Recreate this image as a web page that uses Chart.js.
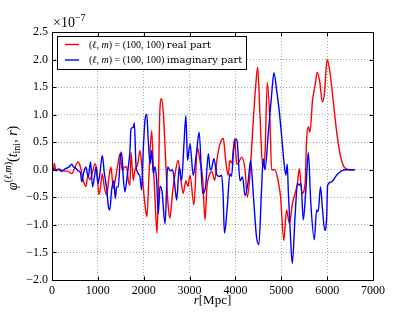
<!DOCTYPE html>
<html>
<head>
<meta charset="utf-8">
<script src="https://cdn.jsdelivr.net/npm/chart.js@4.4.1/dist/chart.umd.min.js"></script>
<style>
  html, body { margin: 0; padding: 0; background: #fff; }
</style>
</head>
<body>
<canvas id="chart" width="415" height="312"></canvas>
<script>
// values in units of 1e-7
var rReal = [0, 30, 50, 80, 150, 250, 350, 430, 480, 530, 570, 620, 680, 740, 780, 830, 880, 940, 990, 1020,
  1050, 1097, 1140, 1192, 1243, 1286, 1337, 1389, 1445, 1482, 1533, 1576, 1628, 1663, 1700, 1722, 1772, 1810, 1868, 1918,
  1955, 1990, 2043, 2070, 2115, 2173, 2208, 2245, 2290, 2320, 2355, 2390, 2430, 2465, 2500, 2535, 2570, 2630, 2680, 2750,
  2800, 2860, 2920, 2965, 3010, 3095, 3170, 3230, 3290, 3335, 3380, 3430, 3480, 3550, 3600, 3675, 3735, 3790, 3840, 3880,
  3920, 3980, 4030, 4065, 4135, 4210, 4260, 4320, 4390, 4440, 4485, 4535, 4595, 4645, 4695, 4755, 4790, 4860, 4935, 4985,
  5055, 5115, 5175, 5245, 5300, 5350, 5395, 5450, 5520, 5550, 5590, 5625, 5680, 5740, 5785, 5840, 5895, 5940, 6000, 6060,
  6135, 6205, 6280, 6350, 6425, 6500, 6600];
var realPart = [0.0, 0.0, 0.12, 0.0, 0.01, -0.02, -0.03, -0.07, 0.0, 0.1, 0.14, 0.05, -0.19, -0.3, -0.12, -0.18, -0.05, 0.11, -0.1, -0.45,
  -0.37, -0.07, -0.31, -0.46, -0.13, 0.05, -0.34, -0.13, 0.14, 0.29, -0.01, 0.05, 0.05, -0.19, -0.28, 0.32, -0.19, 0.0, 0.1, 0.35,
  0.1, -0.31, -0.75, -0.85, -0.1, 0.71, 0.1, -0.5, -1.15, -0.3, 1.14, 1.29, 1.0, 0.41, -0.2, -0.67, -0.88, -0.4, -0.1, 0.17,
  -0.1, -0.43, -0.2, -0.3, -0.1, -0.64, 0.4, 0.15, -0.2, -0.91, -0.3, -0.1, -0.03, -0.19, 0.2, 0.5, 0.57, 0.15, -0.1, 0.17,
  0.12, 0.56, 0.1, 0.12, 0.23, 0.0, -0.5, -0.05, 0.9, 1.5, 1.86, 1.0, 0.05, 0.3, 1.59, 0.83, 0.0, 0.0, -0.22, -0.5,
  -1.28, -0.73, -0.97, -0.6, -0.43, -0.25, 0.02, -0.43, -0.25, 0.5, 0.78, 0.68, 1.25, 1.55, 1.77, 1.59, 1.23, 1.38, 2.0, 1.77,
  1.23, 0.71, 0.29, 0.08, 0.01, 0.0, 0.0];

var rImag = [0, 40, 90, 150, 200, 260, 320, 370, 430, 470, 520, 570, 620, 650, 690, 740, 790, 840, 885, 930,
  960, 1000, 1040, 1097, 1140, 1192, 1230, 1260, 1300, 1350, 1380, 1410, 1446, 1500, 1530, 1555, 1590, 1628, 1663, 1700,
  1722, 1772, 1795, 1830, 1868, 1918, 1955, 1990, 2028, 2065, 2100, 2137, 2173, 2208, 2245, 2282, 2318, 2355, 2400, 2465,
  2522, 2580, 2630, 2680, 2720, 2775, 2825, 2880, 2920, 2955, 3010, 3080, 3150, 3210, 3285, 3350, 3410, 3450, 3480, 3530,
  3600, 3650, 3700, 3730, 3760, 3820, 3880, 3915, 3960, 4010, 4040, 4100, 4155, 4210, 4280, 4330, 4390, 4460, 4510, 4570,
  4605, 4645, 4715, 4790, 4840, 4900, 4955, 5010, 5055, 5100, 5130, 5155, 5190, 5240, 5300, 5355, 5395, 5430, 5480, 5535,
  5590, 5640, 5720, 5770, 5805, 5855, 5900, 5950, 5990, 6010, 6095, 6205, 6315, 6420, 6600];
var imagPart = [0.0, 0.02, -0.02, 0.01, -0.03, 0.0, 0.03, 0.05, 0.1, 0.05, 0.03, -0.02, -0.05, -0.22, -0.05, 0.05, -0.13, 0.14, -0.31, -0.1,
  0.05, -0.25, -0.1, 0.26, -0.05, -0.34, -0.67, -0.73, -0.37, -0.2, -0.52, -0.31, -0.31, 0.32, 0.2, -0.15, -0.4, -0.2, 0.05, 0.35,
  0.74, 0.77, 0.85, 0.11, -0.05, -0.13, -0.37, 0.35, 0.9, 1.01, 0.53, 0.11, 0.35, -0.07, 0.05, -0.19, -0.8, -0.3, -0.4, -0.98,
  0.05, -0.02, 0.0, -0.3, -0.55, 0.05, -0.2, 0.5, 0.98, 0.17, 0.47, -0.1, 0.3, 0.68, -0.43, -0.3, 0.29, 0.0, 0.02, 0.2,
  -0.1, -0.12, -0.1, -0.43, -1.15, -0.7, -0.07, -0.12, 0.35, 0.56, 0.5, -0.2, -0.13, -0.47, -0.2, 0.17, -0.45, -1.22, -1.36, -0.35,
  0.2, 0.0, 0.65, 1.37, 1.76, 1.43, 1.07, 0.59, 0.17, -0.1, 0.1, -0.43, -1.03, -1.7, -0.85, -0.25, -0.28, -0.25, -0.91, -0.37,
  0.32, -0.55, -1.27, -0.73, -0.76, -0.31, -0.73, -1.1, -0.85, -0.28, -0.22, -0.1, -0.02, 0.0, 0.0];

var xTicks = [0, 1000, 2000, 3000, 4000, 5000, 6000, 7000];
var yTicks = [-2.0, -1.5, -1.0, -0.5, 0.0, 0.5, 1.0, 1.5, 2.0, 2.5];
var seriesNames = ["real part", "imaginary part"];
var seriesColors = ["#ff0000", "#0000ff"];

var SERIF = '"Liberation Serif", "DejaVu Serif", serif';

function toPoints(xs, ys) {
  return xs.map(function (x, i) {
    return { x: x, y: ys[i] };
  });
}

function drawRuns(ctx, runs, x, y) {
  runs.forEach(function (r) {
    ctx.font = (r.it ? "italic " : "") + r.size + "px " + (r.family || SERIF);
    ctx.fillText(r.t, x, y + (r.dy || 0));
    x += ctx.measureText(r.t).width;
  });
  return x;
}

function runsWidth(ctx, runs) {
  var w = 0;
  runs.forEach(function (r) {
    ctx.font = (r.it ? "italic " : "") + r.size + "px " + (r.family || SERIF);
    w += ctx.measureText(r.t).width;
  });
  return w;
}

function mathPrefix(size) {
  return [
    { t: "(", size: size },
    { t: "\u2113", it: true, size: size },
    { t: ", ", size: size },
    { t: "m", it: true, size: size },
    { t: ") = (100, 100) ", size: size }
  ];
}

var framePlugin = {
  id: "frame",
  afterDraw: function (chart) {
    var ctx = chart.ctx;
    var a = chart.chartArea;
    var xs = chart.scales.x, ys = chart.scales.y;
    var L = Math.round(a.left) + 0.5, R = Math.round(a.right) + 0.5;
    var T = Math.round(a.top) + 0.5, B = Math.round(a.bottom) + 0.5;
    ctx.save();
    ctx.strokeStyle = "#000";
    ctx.lineWidth = 1;
    ctx.strokeRect(L, T, R - L, B - T);

    // inward ticks on all four sides
    ctx.beginPath();
    xTicks.forEach(function (v) {
      var p = Math.round(xs.getPixelForValue(v)) + 0.5;
      ctx.moveTo(p, B); ctx.lineTo(p, B - 4);
      ctx.moveTo(p, T); ctx.lineTo(p, T + 4);
    });
    yTicks.forEach(function (v) {
      var p = Math.round(ys.getPixelForValue(v)) + 0.5;
      ctx.moveTo(L, p); ctx.lineTo(L + 4, p);
      ctx.moveTo(R, p); ctx.lineTo(R - 4, p);
    });
    ctx.stroke();

    // legend
    ctx.fillStyle = "#fff";
    ctx.fillRect(57.5, 36.5, 189, 33);
    ctx.strokeStyle = "#000";
    ctx.strokeRect(57.5, 36.5, 189, 33);
    ctx.textBaseline = "middle";
    seriesNames.forEach(function (name, i) {
      var y = 44.5 + i * 15.5;
      ctx.strokeStyle = seriesColors[i];
      ctx.lineWidth = 1.4;
      ctx.beginPath();
      ctx.moveTo(65, y); ctx.lineTo(79, y);
      ctx.stroke();
      ctx.fillStyle = "#000";
      var runs = mathPrefix(10).concat([{ t: name, size: 10, family: '"DejaVu Serif", serif' }]);
      drawRuns(ctx, runs, 89, y + 0.5);
    });

    // multiplier above the y axis
    ctx.textBaseline = "alphabetic";
    drawRuns(ctx, [
      { t: "\u00d710", size: 14 },
      { t: "\u22127", size: 10, dy: -6 }
    ], 53, 27);

    // x axis title
    var xt = [{ t: "r", it: true, size: 13 }, { t: "[Mpc]", size: 13 }];
    drawRuns(ctx, xt, (a.left + a.right) / 2 - runsWidth(ctx, xt) / 2, 304);

    // y axis title
    var yt = [
      { t: "\u03c6", it: true, size: 14 },
      { t: "(", size: 10, dy: -6 },
      { t: "\u2113", it: true, size: 10, dy: -6 },
      { t: ",", size: 10, dy: -6 },
      { t: "m", it: true, size: 10, dy: -6 },
      { t: ")", size: 10, dy: -6 },
      { t: "(", size: 14 },
      { t: "t", it: true, size: 14 },
      { t: "ini", size: 10, dy: 3 },
      { t: ", ", size: 14 },
      { t: "r", it: true, size: 14 },
      { t: ")", size: 14 }
    ];
    ctx.translate(17, 158);
    ctx.rotate(-Math.PI / 2);
    drawRuns(ctx, yt, -runsWidth(ctx, yt) / 2, 0);
    ctx.restore();
  }
};

var ctx = document.getElementById("chart").getContext("2d");
var chart = new Chart(ctx, {
  type: "line",
  data: {
    datasets: [
      {
        label: "(\u2113, m) = (100, 100) " + seriesNames[0],
        data: toPoints(rReal, realPart),
        borderColor: seriesColors[0],
        borderWidth: 1.4,
        pointRadius: 0,
        cubicInterpolationMode: "monotone",
        order: 1
      },
      {
        label: "(\u2113, m) = (100, 100) " + seriesNames[1],
        data: toPoints(rImag, imagPart),
        borderColor: seriesColors[1],
        borderWidth: 1.4,
        pointRadius: 0,
        cubicInterpolationMode: "monotone",
        order: 0
      }
    ]
  },
  options: {
    responsive: false,
    animation: false,
    layout: { padding: { left: 0, right: 42, top: 32, bottom: 0 } },
    plugins: { legend: { display: false }, tooltip: { enabled: false } },
    scales: {
      x: {
        type: "linear",
        min: 0,
        max: 7000,
        afterFit: function (scale) { scale.height = 32; },
        afterBuildTicks: function (scale) {
          scale.ticks = xTicks.map(function (v) { return { value: v }; });
        },
        ticks: {
          color: "#000",
          padding: 4,
          maxRotation: 0,
          font: { family: SERIF, size: 12 },
          callback: function (v) { return String(v); }
        },
        grid: { color: "rgba(0,0,0,0.45)", drawTicks: false, lineWidth: 0.8 },
        border: { display: false, dash: [1, 2] }
      },
      y: {
        min: -2,
        max: 2.5,
        afterFit: function (scale) { scale.width = 52; },
        afterBuildTicks: function (scale) {
          scale.ticks = yTicks.map(function (v) { return { value: v }; });
        },
        ticks: {
          color: "#000",
          padding: 4,
          font: { family: SERIF, size: 12 },
          callback: function (v) { return v.toFixed(1).replace("-", "\u2212"); }
        },
        grid: { color: "rgba(0,0,0,0.45)", drawTicks: false, lineWidth: 0.8 },
        border: { display: false, dash: [1, 2] }
      }
    }
  },
  plugins: [framePlugin]
});
</script>
</body>
</html>
